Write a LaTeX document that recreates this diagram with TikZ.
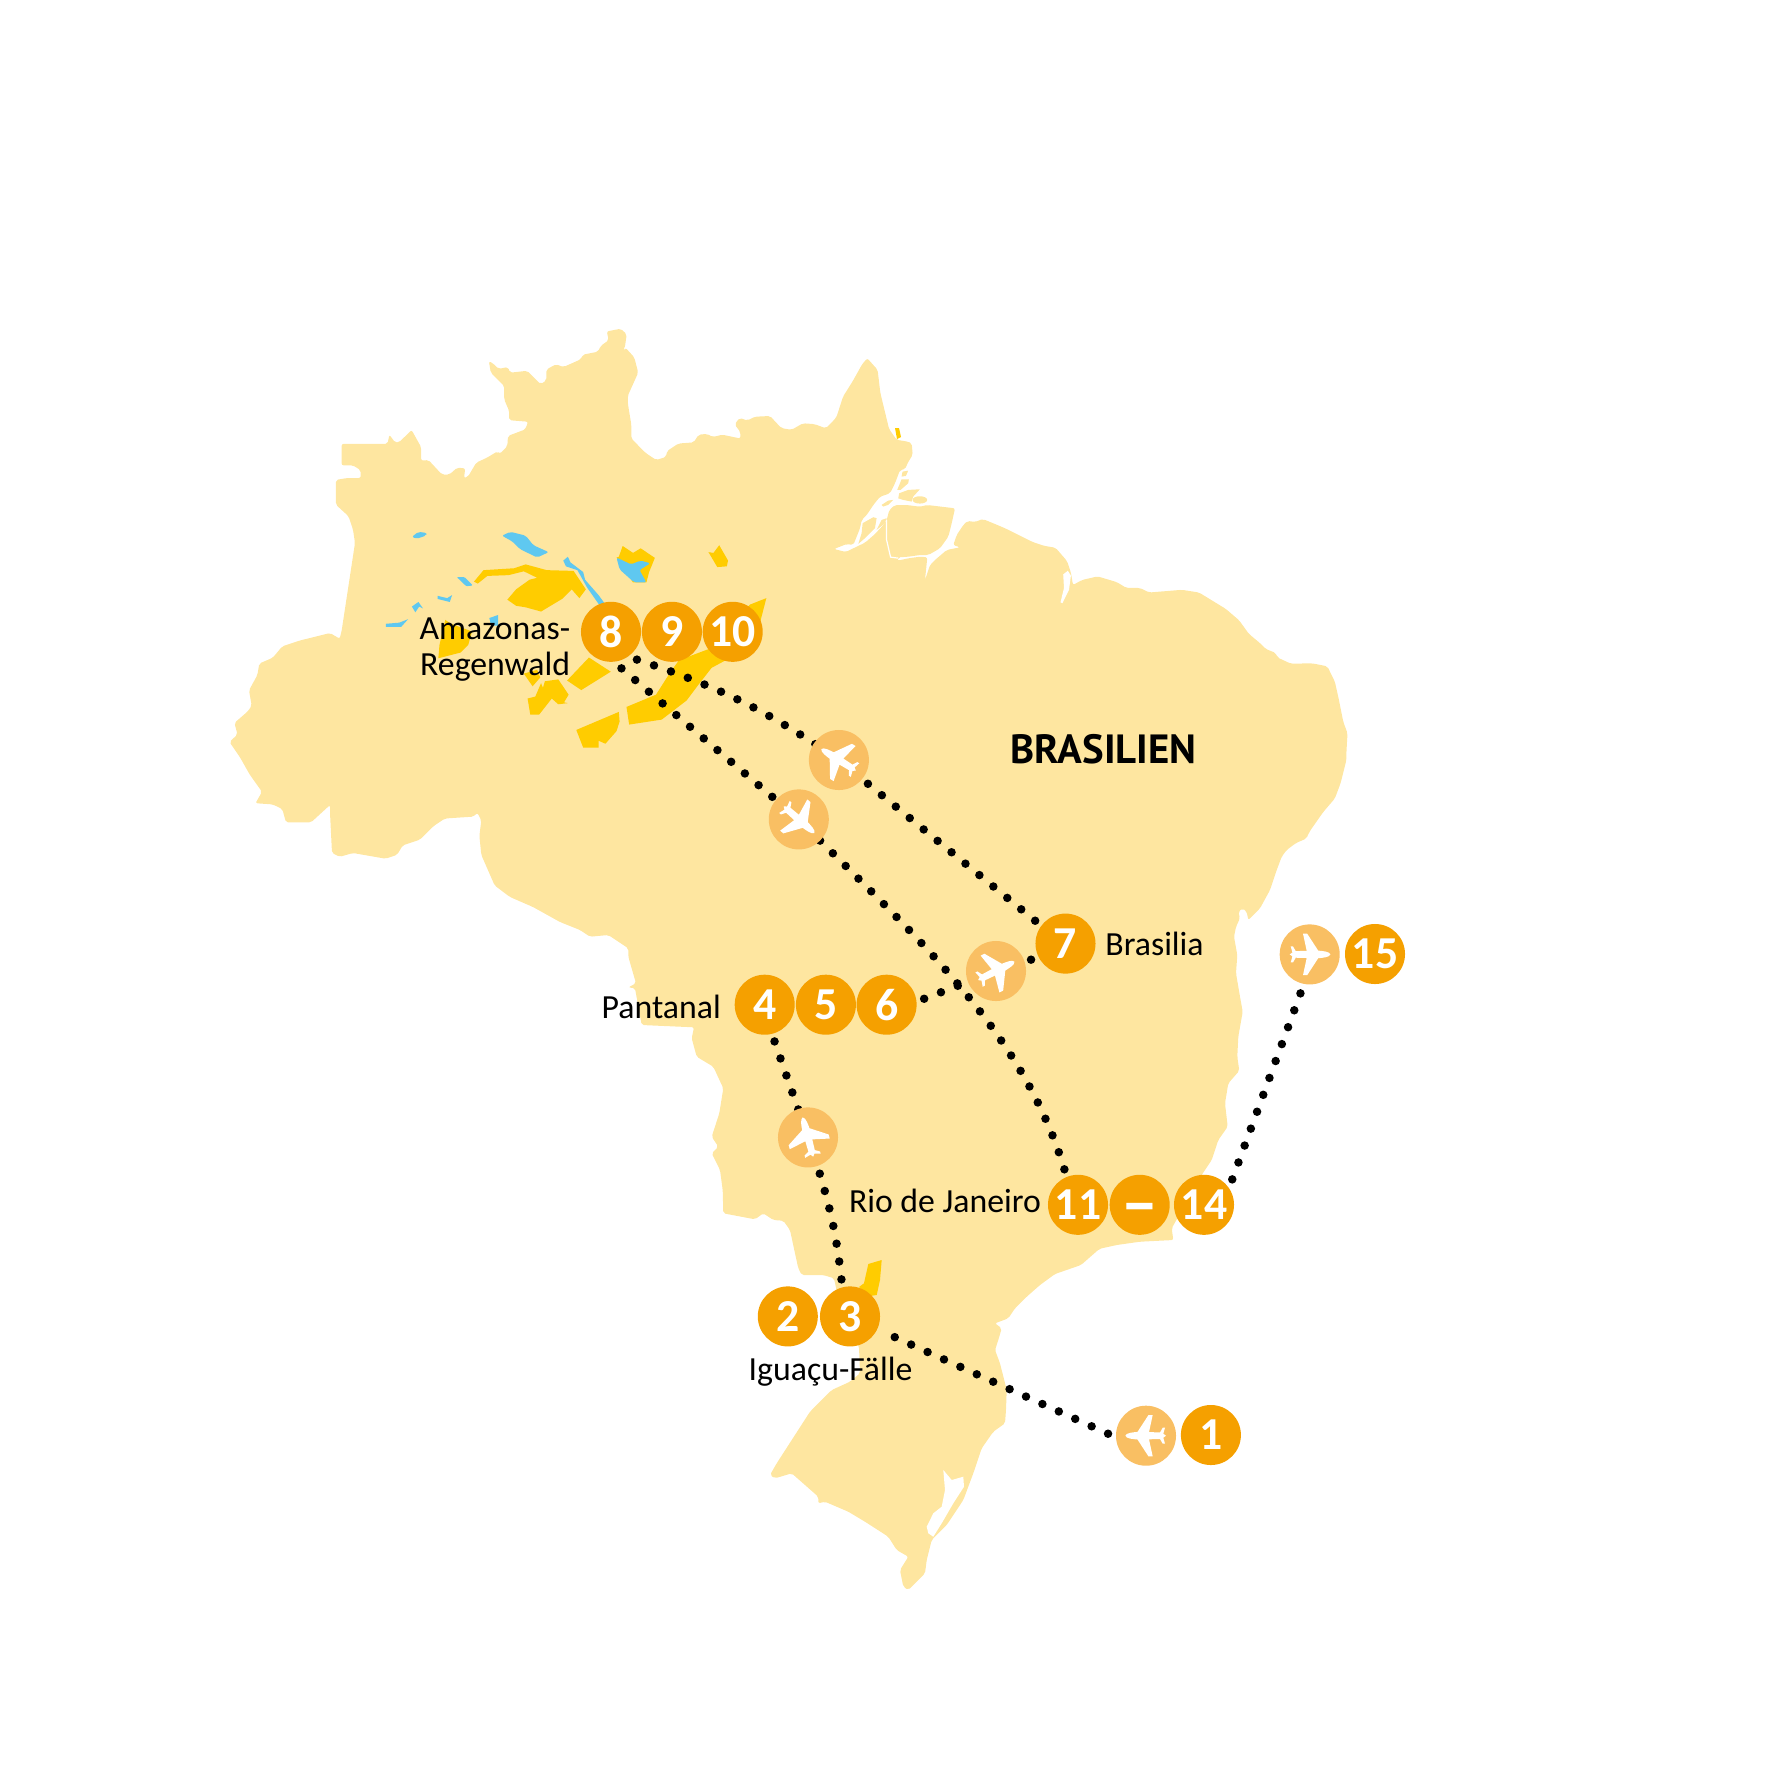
\documentclass[tikz,border=0pt]{standalone}
\usepackage{xcolor}
\usepackage{fontspec}
\setmainfont{Carlito}
\newfontfamily\headfont{PT Sans}
\usepackage{tikz}
\usetikzlibrary{calc}
\usetikzlibrary{positioning}
\definecolor{landc}{HTML}{FEE6A0}
\definecolor{forestc}{HTML}{FFCC00}
\definecolor{lakec}{HTML}{5FC8F0}
\definecolor{dayc}{HTML}{F5A000}
\definecolor{jetc}{HTML}{F9BF63}
\pgfdeclarelayer{map}
\pgfdeclarelayer{flights}
\pgfsetlayers{map,flights,main}
\tikzstyle{dayno} = [circle, fill = dayc, text = white, minimum size = .6cm, inner sep = 0, outer sep = .08cm, font = \fontsize{13}{13}\selectfont\bfseries]
\tikzstyle{jet} = [circle, fill = jetc, minimum size = .6cm, inner sep = 0, outer sep = .08cm]
\tikzstyle{hop} = [draw = black, line width = .085cm, line cap = round, dash pattern = on 0pt off .18cm]
\tikzstyle{lbl} = [inner sep = 0, anchor = base west, font = \fontsize{9.6}{11}\selectfont]
\tikzset{jeticon/.pic = {
  \fill [white] (20.7,0) .. controls (20,3) and (12,3.5) .. (8.5,3.8) -- (-2.5,20.7) -- (-6.7,20.7) -- (-3,3.6) -- (-14,3.3) -- (-16.7,8) -- (-19,8) -- (-17.3,2) -- (-20,0)
    -- (-17.3,-2) -- (-19,-8) -- (-16.7,-8) -- (-14,-3.3) -- (-3,-3.6) -- (-6.7,-20.7) -- (-2.5,-20.7) -- (8.5,-3.8) .. controls (12,-3.5) and (20,-3) .. (20.7,0) -- cycle;
}}
\begin{document}
\begin{tikzpicture}[x = .01cm, y = -.01cm]
\useasboundingbox (0,0) rectangle (1778,1778);
\begin{pgfonlayer}{map}
% the country
\fill [landc, rounded corners = .02cm] (341.6,443.9) -- (387.5,443.9) -- (389.4,434.7) -- (395,442.4) -- (399,442.4) -- (411.6,430) -- (421.2,447.3) -- (421.2,460.7) -- (428.5,460) -- (441.9,474.5) -- (449.5,474.5) -- (457.2,467.6) -- (465.2,468.4) -- (464,478) -- (467.9,476.8) -- (476.3,462.6) -- (487,457.7) -- (497.7,451.2) -- (499.7,453.8) -- (507.3,446.2) -- (508,435.9) -- (525.3,429.4) -- (528,421.7) -- (509.2,420.2) -- (509.2,411) -- (504.2,399.5) -- (504.2,386) -- (490.8,372.7) -- (488.9,361.2) -- (492.7,363.1) -- (498.5,368.9) -- (508,367) -- (510,372.7) -- (527.2,370.8) -- (540.6,384.2) -- (546.3,380.4) -- (546.3,369.6) -- (555.9,364.3) -- (563.5,367) -- (580.8,359.3) -- (582.7,354.7) -- (598,351.7) -- (600.7,345.9) -- (608.7,340.2) -- (606.8,331.4) -- (620.9,328.7) -- (626.7,334.4) -- (624.8,347.8) -- (621.7,352.8) -- (625.6,347.8) -- (634.3,357.4) -- (638.2,372.7) -- (627.8,395.7) -- (627.8,403.3) -- (631.3,424.4) -- (631.3,438.5) -- (645.8,453.1) -- (656.2,460) -- (666.1,456.9) -- (666.9,451.2) -- (678.4,443.5) -- (693.7,442.4) -- (698.6,434.7) -- (707,433.9) -- (712.8,437) -- (722.3,434.7) -- (740.4,438.5) -- (740.4,432) -- (734.6,424.4) -- (739.6,417.9) -- (747.2,420.5) -- (754.9,416.7) -- (770.2,416) -- (776,422.5) -- (781.7,428.2) -- (791.5,429.8) -- (803,423.3) -- (814.4,424.1) -- (825.9,428.3) -- (836.3,417.6) -- (843.1,396.5) -- (852.7,381.2) -- (862.3,364) -- (867.3,358.3) -- (877.6,369.8) -- (880.3,392.7) -- (889.1,429.1) -- (896.7,439.8) -- (908.2,441.7) -- (911.7,443.3) -- (912.7,455) -- (908.3,461.7) -- (905,469.3) -- (900,470) -- (895,483.3) -- (890,493.3) -- (880,496.7) -- (873.3,505) -- (866.7,515) -- (861.7,520) -- (860,528.3) -- (856,538.3) -- (853.3,545) -- (846.7,544) -- (834,549) -- (846,552) -- (853.3,548.3) -- (865,542.7) -- (875,534) -- (883.3,525) -- (886.7,520) -- (889.3,510) -- (895,505) -- (906.7,505) -- (920,506.7) -- (927.3,505) -- (955,508.3) -- (951.7,523.3) -- (948.3,536.7) -- (940,548.3) -- (928.3,555) -- (920,555) -- (908.3,556.7) -- (898.3,557.3) -- (897.3,560.7) -- (908.3,558.3) -- (920,556.7) -- (927.3,557.3) -- (925,580) -- (930,565) -- (935,560) -- (946.7,550) -- (960,547.3) -- (953.3,545) -- (956.7,535) -- (963.3,525) -- (967.5,520.9) -- (975,522) -- (982.8,519) -- (995,524) -- (1005.8,528.6) -- (1017.3,534.3) -- (1032.6,542) -- (1044,545.8) -- (1055.5,547.7) -- (1067,561) -- (1070.9,572.6) -- (1073,585) -- (1082,580) -- (1097.6,576.4) -- (1116.8,582.1) -- (1126.3,587.9) -- (1139.7,587.9) -- (1149.3,592.5) -- (1181.8,589.8) -- (1199,592.5) -- (1225.8,608.9) -- (1239.2,620.4) -- (1248.8,633.8) -- (1260.3,643.4) -- (1266,649.1) -- (1275.6,652.9) -- (1277.5,657.5) -- (1290.9,663.7) -- (1312,663.3) -- (1327.3,666.3) -- (1334.9,681.7) -- (1338.7,698.9) -- (1343.3,721.8) -- (1347.5,733.3) -- (1346.4,752.4) -- (1346.4,760) -- (1340.6,783.1) -- (1334.9,798.4) -- (1323.4,811.8) -- (1310,830.9) -- (1306.2,838.6) -- (1296,843) -- (1286.7,850) -- (1281.7,856.7) -- (1276.7,870) -- (1270,890) -- (1260,908.3) -- (1248.3,920) -- (1246.7,911.7) -- (1242.7,908.3) -- (1238.3,911.7) -- (1240,918.3) -- (1236,926.7) -- (1234,936.7) -- (1237.3,955) -- (1236,973.3) -- (1240,996.7) -- (1242.7,1011.7) -- (1238.3,1036.7) -- (1237.3,1056.7) -- (1239.3,1070.7) -- (1228.3,1083.3) -- (1225,1103.3) -- (1227.7,1126.7) -- (1218.3,1140) -- (1211.7,1160) -- (1201.7,1175) -- (1171.7,1228.3) -- (1173.3,1240) -- (1140,1241.7) -- (1116.7,1245) -- (1099.5,1248.8) -- (1081,1265) -- (1055,1274) -- (1040,1285) -- (1026.7,1296.7) -- (1015,1308.3) -- (1008.3,1318.3) -- (995,1323.3) -- (1001.7,1328.3) -- (998.3,1340) -- (995,1350) -- (1000,1363.3) -- (1006.7,1390) -- (1006,1410) -- (1005,1423.3) -- (993.3,1431.7) -- (981.7,1448.3) -- (973.3,1473.3) -- (963.3,1500) -- (946.7,1525) -- (931.7,1540) -- (926.7,1560) -- (925,1573.3) -- (908.3,1590) -- (903.3,1586.7) -- (900,1570) -- (908.3,1556.7) -- (896.7,1550) -- (888.3,1536.7) -- (865,1521.7) -- (848.3,1511.7) -- (825,1501.7) -- (818.3,1503.3) -- (818.3,1496.7) -- (791.7,1473.3) -- (775,1478.3) -- (770,1475) -- (776.7,1463.3) -- (810,1411.7) -- (820,1401.7) -- (831.7,1390) -- (850,1381.7) -- (860,1373.3) -- (859,1346.7) -- (840,1306.7) -- (834,1278.3) -- (823.3,1275) -- (801.7,1275) -- (798.3,1268.3) -- (795,1253.3) -- (790,1230) -- (783.3,1220.7) -- (773.3,1220) -- (763.3,1213.3) -- (755,1219.3) -- (723.3,1213.3) -- (722.7,1190) -- (720,1170) -- (711.7,1153.3) -- (718.3,1146.7) -- (711.7,1136.7) -- (719.3,1113.3) -- (723.3,1088.3) -- (713.3,1066.7) -- (696.7,1056.7) -- (691.7,1038.3) -- (694,1027.3) -- (641.7,1025) -- (635,988.3) -- (628.3,987.3) -- (636,983.3) -- (628.3,956.7) -- (628.3,948.3) -- (608.3,935) -- (590,936.7) -- (580,930) -- (560,922) -- (533,907) -- (510,897) -- (494.7,885.5) -- (481.3,854.9) -- (479.4,835.8) -- (481.3,820.4) -- (477.4,812.8) -- (473.6,816.6) -- (444.9,818.5) -- (433.4,826.2) -- (420,839.6) -- (402.8,845.3) -- (397,854.9) -- (385.6,858.7) -- (353,853) -- (339.7,856.8) -- (332,853) -- (330.1,814.7) -- (330,805) -- (311,822.4) -- (286,822.4) -- (282.3,809) -- (272.7,804.4) -- (255.5,803.2) -- (262,791.8) -- (249.7,774.5) -- (240,757.3) -- (229.5,742) -- (237.5,734.4) -- (234.4,722.9) -- (247.8,711.4) -- (251.7,705.7) -- (249,690.3) -- (257.4,675) -- (259.3,663.5) -- (272.7,657.8) -- (282.3,646.3) -- (299.5,640.6) -- (314.8,636.8) -- (330,633) -- (339.7,638.7) -- (341.6,631) -- (355,543) -- (353,529.6) -- (348.5,516.2) -- (335.9,504.7) -- (335.9,479.9) -- (347.3,478) -- (360.7,478) -- (360.7,470.3) -- (353,465.3) -- (341.6,465.3) -- cycle;
% islands and inlets
\begin{scope}[shift = {(840,440)}, x = .00333cm, y = -.00333cm]
\fill [landc] (188,95) -- (205,92) -- (198,108) -- (185,110) -- cycle;
\fill [landc] (172,150) -- (185,118) -- (207,118) -- (205,130) -- (182,150) -- cycle;
\fill [landc] (178,160) -- (205,150) -- (240,148) -- (220,170) -- (215,185) -- (190,180) -- (175,175) -- cycle;
\fill [landc] (240,180) ellipse (22 and 11);
\fill [landc] (125,195) -- (145,182) -- (160,180) -- (145,195) -- (130,200) -- cycle;
\fill [landc] (68,250) -- (100,232) -- (110,235) -- (105,265) -- (75,295) -- (55,312) -- (65,280) -- cycle;
\fill [landc] (110,270) -- (125,240) -- (140,235) -- (135,250) -- cycle;
\draw [white, line width = .012cm] (140,240) -- (140,300) -- (152,352) -- (175,355);
\end{scope}
\fill [white] (1067.8,570.7) -- (1070.9,575.6) -- (1069,589.8) -- (1062.4,603.2) -- (1060.5,602.4) -- (1064,587.9) -- (1063.2,574.5) -- cycle;
\fill [white] (943.3,1470) -- (951.7,1480) -- (963.3,1476.7) -- (964,1486.7) -- (953.3,1503.3) -- (941.7,1523.3) -- (933.3,1536.7) -- (928.3,1533.3) -- (926.7,1526.7) -- (933.3,1513.3) -- (941.7,1506.7) -- (945,1490) -- cycle;
% forest and lakes
\begin{scope}[shift = {(200,300)}, x = .003827cm, y = -.003827cm]
\fill [forestc] (715,735) -- (740,705) -- (820,700) -- (850,690) -- (905,705) -- (975,707) -- (1007,755) -- (990,778) -- (970,755) -- (945,780) -- (890,813) -- (850,802) -- (825,798) -- (802,782) -- (825,755) -- (860,730) -- (880,725) -- (845,708) -- (805,718) -- (750,720) -- (725,740) -- cycle;
\fill [forestc] (1103,642) -- (1130,660) -- (1150,648) -- (1187,673) -- (1172,710) -- (1165,737) -- (1130,737) -- (1087,672) -- (1093,670) -- cycle;
\fill [forestc] (1355,640) -- (1378,680) -- (1375,695) -- (1350,697) -- (1327,658) -- (1340,660) -- cycle;
\fill [forestc] (1435,795) -- (1478,778) -- (1462,840) -- (1450,880) -- (1400,925) -- (1335,960) -- (1300,1005) -- (1270,1045) -- (1205,1095) -- (1120,1108) -- (1113,1062) -- (1190,1030) -- (1225,975) -- (1250,940) -- (1330,910) -- cycle;
\fill [forestc] (1093,1075) -- (1095,1100) -- (1087,1125) -- (1058,1158) -- (1040,1150) -- (1040,1168) -- (1000,1168) -- (982,1122) -- cycle;
\fill [forestc] (1015,933) -- (1072,970) -- (995,1018) -- (958,993) -- cycle;
\fill [forestc] (900,995) -- (935,990) -- (962,1030) -- (950,1050) -- (960,1052) -- (935,1055) -- (918,1040) -- (885,1082) -- (862,1082) -- (855,1040) -- (875,1035) -- (890,1000) -- (895,1012) -- cycle;
\fill [forestc] (845,975) -- (880,965) -- (888,985) -- (868,1008) -- cycle;
\fill [forestc] (622,935) -- (625,900) -- (640,835) -- (655,845) -- (710,865) -- (700,900) -- (680,920) -- cycle;
\fill [lakec, rounded corners = .02cm] (1087,672) -- (1125,690) -- (1150,680) -- (1175,687) -- (1147,705) -- (1165,737) -- (1133,737) -- (1095,703) -- cycle;
\fill [lakec, rounded corners = .02cm] (553,618) -- (570,605) -- (592,608) -- (590,615) -- (565,623) -- cycle;
\fill [lakec, rounded corners = .02cm] (788,615) -- (810,605) -- (850,615) -- (870,640) -- (910,658) -- (880,672) -- (835,650) -- (815,630) -- cycle;
\fill [lakec] (948,680) -- (960,670) -- (967,685) -- (1000,710) -- (1005,730) -- (1040,770) -- (1062,800) -- (1045,800) -- (1010,750) -- (985,705) -- (955,695) -- cycle;
\fill [lakec, rounded corners = .01cm] (670,723) -- (690,723) -- (712,745) -- (695,747) -- cycle;
\fill [lakec] (620,772) -- (645,778) -- (658,770) -- (652,788) -- (620,780) -- cycle;
\fill [lakec] (553,800) -- (570,788) -- (582,805) -- (572,800) -- (562,815) -- cycle;
\fill [lakec] (485,845) -- (520,842) -- (543,833) -- (525,853) -- (485,853) -- cycle;
\fill [lakec] (755,830) -- (778,822) -- (778,850) -- (760,850) -- cycle;
\end{scope}
\fill [forestc] (895,428) -- (899,428) -- (901,437) -- (897,439) -- cycle;
\fill [forestc] (881.7,1260) -- (868.3,1264) -- (864,1283.3) -- (859,1287) -- (870,1296) -- (876.7,1295) -- (880,1280) -- cycle;
\end{pgfonlayer}
% stops
\node [dayno] (s1) at (1210.9,1435) {1};
\node [dayno] (s2) at (787.8,1316.4) {2};
\node [dayno] (s3) at (850,1316.4) {3};
\node [dayno] (s4) at (764.7,1004.7) {4};
\node [dayno] (s5) at (825.9,1004.7) {5};
\node [dayno] (s6) at (886.6,1004.7) {6};
\node [dayno] (s7) at (1065.5,943.6) {7};
\node [dayno] (s8) at (611,631.8) {8};
\node [dayno] (s9) at (671.9,631.8) {9};
\node [dayno] (s10) at (732.7,631.8) {10};
\node [dayno] (s11) at (1078,1204.8) {11};
\node [dayno, text height = 0pt, text depth = 0pt] (sdash) at (1139.7,1204.8) {\fontsize{21}{21}\selectfont\raisebox{-.305em}{\smash{--}}};
\node [dayno] (s14) at (1204,1204.8) {14};
\node [dayno] (s15) at (1375,954) {15};
\node [jet] (jet1) at (1146,1435.7) {};
\node [jet] (jet2) at (808,1137.4) {};
\node [jet] (jet3) at (996,971) {};
\node [jet] (jet4) at (838.9,760) {};
\node [jet] (jet5) at (798.8,819.4) {};
\node [jet] (jet6) at (1309.7,954.4) {};
% flights
\begin{pgfonlayer}{flights}
\draw [hop] (jet1.177) -- (s3.-25);
\draw [hop] (s3.103) to [bend right = 5] (jet2.-72);
\draw [hop] (s4.-75) -- (jet2.center);
\draw [hop] (s6.9) -- (jet3.center);
\draw [hop] (s7.205) -- (jet3.center);
\draw [hop] (s7.143) -- (jet4.center);
\draw [hop] (s8.-47) to [bend left = 8] (jet4.center);
\draw [hop] (s8.-74) -- (jet5.center);
\draw [hop] (s11.111) .. controls (1022,1029) and (912,933) .. (jet5.center);
\draw [hop] (s14.42) -- (jet6.-103);
\end{pgfonlayer}
\pic [rotate = 180] at (jet1) {jeticon};
\pic [rotate = 105] at (jet2) {jeticon};
\pic [rotate = 27] at (jet3) {jeticon};
\pic [rotate = 148] at (jet4) {jeticon};
\pic [rotate = -41] at (jet5) {jeticon};
\pic at (jet6) {jeticon};
% names
\node [lbl] (amazon) at (418.9,639.4) {Amazonas-};
\node [lbl] (regen) at (419.5,675.8) {Regenwald};
\node [lbl] (brasilia) at (1104.7,955) {Brasilia};
\node [lbl] (pantanal) at (601,1018.5) {Pantanal};
\node [lbl] (rio) at (848.3,1212.7) {Rio de Janeiro};
\node [lbl] (iguacu) at (748,1380) {Iguaçu-Fälle};
\node [anchor = center, inner sep = 0, font = \headfont\fontsize{11.6}{12}\selectfont\bfseries] (country) at (1103.4,749.4) {BRASILIEN};
\end{tikzpicture}
\end{document}
